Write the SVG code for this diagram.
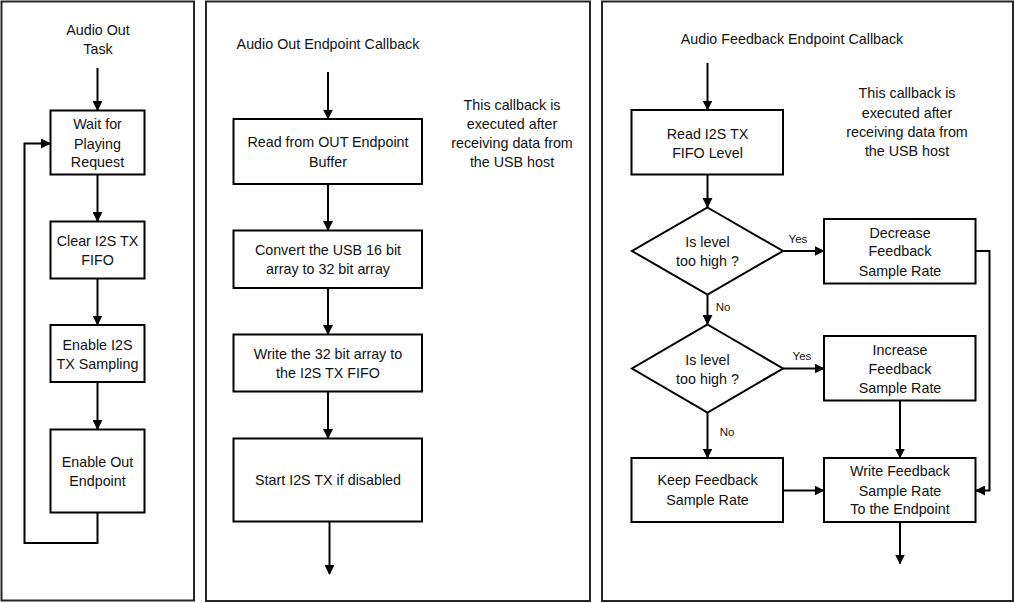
<svg xmlns="http://www.w3.org/2000/svg" width="1015" height="603" viewBox="0 0 1015 603">
<style>
.panel{fill:#fff;stroke:#262626;stroke-width:2}
.box{fill:#fff;stroke:#000;stroke-width:2}
.t{font-family:"Liberation Sans",Arial,sans-serif;font-size:14.3px;fill:#111;text-anchor:middle;dominant-baseline:central}
.s{font-family:"Liberation Sans",Arial,sans-serif;font-size:11.5px;fill:#111;text-anchor:middle;dominant-baseline:central}
.c{fill:none;stroke:#000;stroke-width:2}
.a{marker-end:url(#arr)}
</style>
<defs>
<marker id="arr" viewBox="0 0 10 10" refX="9" refY="5" markerWidth="10" markerHeight="10" markerUnits="userSpaceOnUse" orient="auto">
<path d="M0,0 L10,5 L0,10 z" fill="#000"/>
</marker>
</defs>
<rect fill="#fff" x="0" y="0" width="1015" height="603"/>
<g id="panel-left"><rect class="panel" x="1.5" y="1.5" width="192.5" height="599"/>
<text class="t" x="98" y="30">Audio Out</text><text class="t" x="98" y="49">Task</text></g>
<g id="panel-mid"><rect class="panel" x="206" y="1.5" width="384" height="599.5"/>
<text class="t" x="328" y="44">Audio Out Endpoint Callback</text>
<text class="t" x="512" y="105">This callback is</text><text class="t" x="512" y="124">executed after</text><text class="t" x="512" y="143">receiving data from</text><text class="t" x="512" y="162">the USB host</text></g>
<g id="panel-right"><rect class="panel" x="602" y="1.5" width="411" height="599.5"/>
<text class="t" x="792" y="39">Audio Feedback Endpoint Callback</text>
<text class="t" x="907" y="93">This callback is</text><text class="t" x="907" y="113">executed after</text><text class="t" x="907" y="132">receiving data from</text><text class="t" x="907" y="151">the USB host</text></g>

<g id="n-wait"><rect class="box" x="50.5" y="110.5" width="94" height="64"/>
<text class="t" x="97.5" y="124">Wait for</text><text class="t" x="97.5" y="143.5">Playing</text><text class="t" x="97.5" y="162">Request</text></g>
<g id="n-clear"><rect class="box" x="50.5" y="221.5" width="94" height="57"/>
<text class="t" x="97.5" y="241">Clear I2S TX</text><text class="t" x="97.5" y="260">FIFO</text></g>
<g id="n-enable-i2s"><rect class="box" x="50.5" y="325" width="94" height="57"/>
<text class="t" x="97.5" y="345">Enable I2S</text><text class="t" x="97.5" y="364">TX Sampling</text></g>
<g id="n-enable-out"><rect class="box" x="50.5" y="429.5" width="94" height="83"/>
<text class="t" x="97.5" y="461.5">Enable Out</text><text class="t" x="97.5" y="481">Endpoint</text></g>

<g id="n-read-out"><rect class="box" x="233.5" y="119" width="188.5" height="65"/>
<text class="t" x="328" y="142">Read from OUT Endpoint</text><text class="t" x="328" y="162">Buffer</text></g>
<g id="n-convert"><rect class="box" x="233.5" y="230.5" width="188.5" height="57.5"/>
<text class="t" x="328" y="250">Convert the USB 16 bit</text><text class="t" x="328" y="268.5">array to 32 bit array</text></g>
<g id="n-write"><rect class="box" x="233.5" y="334.5" width="188.5" height="57"/>
<text class="t" x="328" y="354">Write the 32 bit array to</text><text class="t" x="328" y="372.5">the I2S TX FIFO</text></g>
<g id="n-start"><rect class="box" x="233.5" y="438.5" width="188.5" height="83"/>
<text class="t" x="328" y="480">Start I2S TX if disabled</text></g>

<g id="n-read-level"><rect class="box" x="631.5" y="110" width="151.5" height="64.5"/>
<text class="t" x="707.5" y="133.5">Read I2S TX</text><text class="t" x="707.5" y="152.5">FIFO Level</text></g>
<g id="n-dec1"><polygon class="box" points="707.5,207.5 783,251 707.5,294.5 632,251"/>
<text class="t" x="707.5" y="242">Is level</text><text class="t" x="707.5" y="261">too high ?</text></g>
<g id="n-decrease"><rect class="box" x="824" y="219" width="151.5" height="64.5"/>
<text class="t" x="900" y="232.5">Decrease</text><text class="t" x="900" y="251">Feedback</text><text class="t" x="900" y="271">Sample Rate</text></g>
<g id="n-dec2"><polygon class="box" points="707.5,324.5 783,368.5 707.5,412.5 632,368.5"/>
<text class="t" x="707.5" y="359.5">Is level</text><text class="t" x="707.5" y="378.5">too high ?</text></g>
<g id="n-increase"><rect class="box" x="824" y="336" width="151.5" height="64.5"/>
<text class="t" x="900" y="349.5">Increase</text><text class="t" x="900" y="368.5">Feedback</text><text class="t" x="900" y="387.5">Sample Rate</text></g>
<g id="n-keep"><rect class="box" x="631.5" y="458" width="151.5" height="64"/>
<text class="t" x="707.5" y="480">Keep Feedback</text><text class="t" x="707.5" y="500">Sample Rate</text></g>
<g id="n-write-fb"><rect class="box" x="824" y="458" width="151.5" height="64"/>
<text class="t" x="900" y="471">Write Feedback</text><text class="t" x="900" y="490.5">Sample Rate</text><text class="t" x="900" y="509">To the Endpoint</text></g>

<g id="connectors">
<path class="c a" d="M97.5,68 V110"/>
<path class="c a" d="M97.5,174.5 V221"/>
<path class="c a" d="M97.5,278.5 V324.5"/>
<path class="c a" d="M97.5,382 V429"/>
<path class="c a" d="M97.5,512.5 V543 H24.5 V143.5 H50"/>
<path class="c a" d="M328,72 V118.5"/>
<path class="c a" d="M328,184 V230"/>
<path class="c a" d="M328,288 V334"/>
<path class="c a" d="M328,391.5 V438"/>
<path class="c a" d="M329.5,521.5 V574"/>
<path class="c a" d="M707.5,63 V109.5"/>
<path class="c a" d="M707.5,174.5 V207"/>
<path class="c a" d="M783,251 H823.5"/>
<path class="c a" d="M707.5,294.5 V324"/>
<path class="c a" d="M783,368.5 H823.5"/>
<path class="c a" d="M707.5,412.5 V457.5"/>
<path class="c a" d="M900,400.5 V457.5"/>
<path class="c a" d="M783,490.5 H823.5"/>
<path class="c a" d="M975.5,251 H989.5 V490.5 H976"/>
<path class="c a" d="M900,522 V563.5"/>
<text class="s" x="798" y="239">Yes</text>
<text class="s" x="723" y="306.5">No</text>
<text class="s" x="802" y="356">Yes</text>
<text class="s" x="727" y="432">No</text>
</g>
</svg>
